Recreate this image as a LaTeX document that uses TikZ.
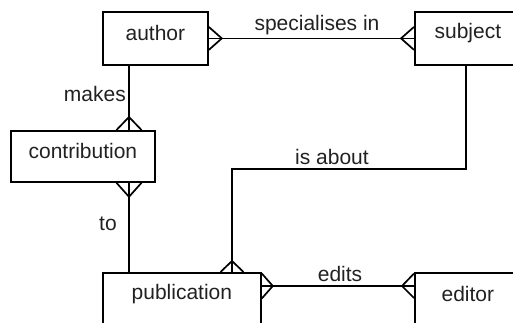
\documentclass[tikz,border=0pt]{standalone}
\usepackage{fontspec}
\setmainfont{Liberation Sans}
\usetikzlibrary{calc}
\begin{document}
\begin{tikzpicture}[x=1pt,y=-1pt,
  every node/.style={font=\fontsize{21}{25}\selectfont, text=black!87},
  entity/.style={draw, line width=1.8pt, minimum height=53pt, inner sep=0pt, anchor=north west},
  conn/.style={line width=1.7pt},
  lbl/.style={inner sep=0pt}]
\useasboundingbox (0,0) rectangle (513,323);
\clip (0,0) rectangle (513,323);
% entities
\node[entity, minimum width=105pt] (author) at (102,11) {};
\node[yshift=5pt] (authortext) at (author.center) {author};
\node[entity, minimum width=106pt] (subject) at (414,11) {};
\node[yshift=5pt] (subjecttext) at (subject.center) {subject};
\node[entity, minimum width=144pt, minimum height=51pt] (contrib) at (10,130) {};
\node[yshift=5pt] (contribtext) at (contrib.center) {contribution};
\node[entity, minimum width=158pt] (pub) at (102,272) {};
\node[yshift=5pt] (pubtext) at (pub.center) {publication};
\node[entity, minimum width=106pt] (editor) at (414,272) {};
\node[yshift=5pt] (editortext) at (editor.center) {editor};
% author -- subject
\draw[conn] (author.east) -- (subject.west);
\draw[conn] ($(author.east)+(0,-11.5)$) -- ($(author.east)+(13,0)$) -- ($(author.east)+(0,11.5)$);
\draw[conn] ($(subject.west)+(0,-11.5)$) -- ($(subject.west)+(-13,0)$) -- ($(subject.west)+(0,11.5)$);
\node[lbl] (l1) at (317,25) {specialises in};
% author -- contribution
\coordinate (a1) at ($(author.south west)+(27,0)$);
\coordinate (c1) at (a1 |- contrib.north);
\draw[conn] (a1) -- (c1);
\draw[conn] ($(c1)+(-12.5,0)$) -- ($(c1)+(0,-13)$) -- ($(c1)+(12.5,0)$);
\node[lbl, anchor=east] (l2) at (126,94) {makes};
% contribution -- publication
\coordinate (c2) at (a1 |- contrib.south);
\coordinate (p1) at (a1 |- pub.north);
\draw[conn] (c2) -- (p1);
\draw[conn] ($(c2)+(-12.5,0)$) -- ($(c2)+(0,14)$) -- ($(c2)+(12.5,0)$);
\node[lbl] (l3) at (108,224) {to};
% subject -- publication
\coordinate (s1) at ($(subject.south west)+(52,0)$);
\coordinate (bend) at (s1 |- 0,169);
\coordinate (p2) at ($(pub.north west)+(130,0)$);
\draw[conn] (s1) -- (bend) -- (p2 |- bend) -- (p2);
\draw[conn] ($(p2)+(-11.5,0)$) -- ($(p2)+(0,-11)$) -- ($(p2)+(11.5,0)$);
\node[lbl] (l4) at (332,157) {is about};
% publication -- editor
\coordinate (p3) at ($(pub.north east)+(0,14)$);
\coordinate (e1) at (editor.west |- p3);
\draw[conn] (p3) -- (e1);
\draw[conn] ($(p3)+(0,-12.5)$) -- ($(p3)+(11,0)$) -- ($(p3)+(0,12.5)$);
\draw[conn] ($(e1)+(0,-12.5)$) -- ($(e1)+(-12,0)$) -- ($(e1)+(0,12)$);
\node[lbl] (l5) at (340,274) {edits};
\end{tikzpicture}
\end{document}
